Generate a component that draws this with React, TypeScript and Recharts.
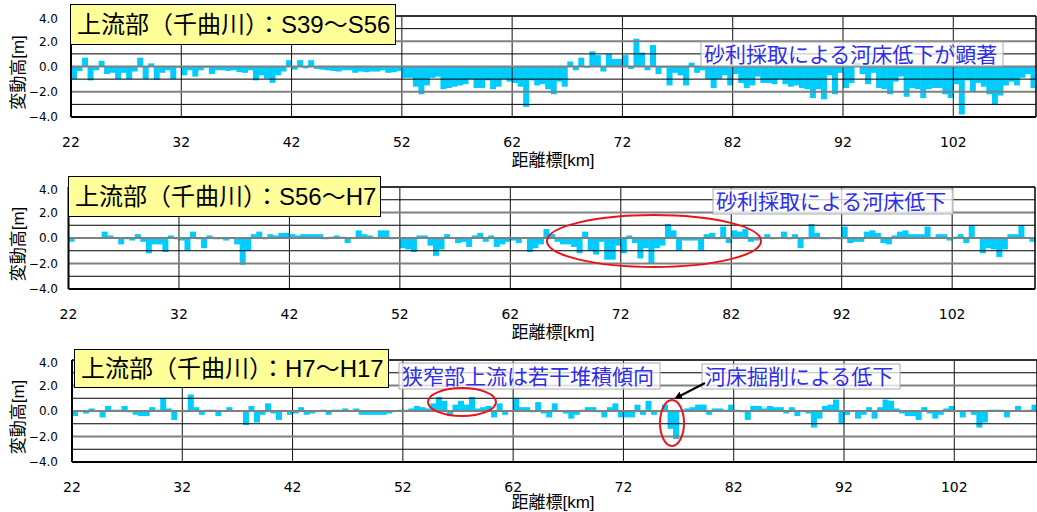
import { BarChart, Bar, XAxis, YAxis, ReferenceLine } from 'recharts';

// distance posts (bar centres) in km
const DISTANCE_KM = [
  22.25, 22.75, 23.25, 23.75, 24.25, 24.75, 25.25, 25.75, 26.25, 26.75,
  27.25, 27.75, 28.25, 28.75, 29.25, 29.75, 30.25, 30.75, 31.25, 31.75,
  32.25, 32.75, 33.25, 33.75, 34.25, 34.75, 35.25, 35.75, 36.25, 36.75,
  37.25, 37.75, 38.25, 38.75, 39.25, 39.75, 40.25, 40.75, 41.25, 41.75,
  42.25, 42.75, 43.25, 43.75, 44.25, 44.75, 45.25, 45.75, 46.25, 46.75,
  47.25, 47.75, 48.25, 48.75, 49.25, 49.75, 50.25, 50.75, 51.25, 51.75,
  52.25, 52.75, 53.25, 53.75, 54.25, 54.75, 55.25, 55.75, 56.25, 56.75,
  57.25, 57.75, 58.25, 58.75, 59.25, 59.75, 60.25, 60.75, 61.25, 61.75,
  62.25, 62.75, 63.25, 63.75, 64.25, 64.75, 65.25, 65.75, 66.25, 66.75,
  67.25, 67.75, 68.25, 68.75, 69.25, 69.75, 70.25, 70.75, 71.25, 71.75,
  72.25, 72.75, 73.25, 73.75, 74.25, 74.75, 75.25, 75.75, 76.25, 76.75,
  77.25, 77.75, 78.25, 78.75, 79.25, 79.75, 80.25, 80.75, 81.25, 81.75,
  82.25, 82.75, 83.25, 83.75, 84.25, 84.75, 85.25, 85.75, 86.25, 86.75,
  87.25, 87.75, 88.25, 88.75, 89.25, 89.75, 90.25, 90.75, 91.25, 91.75,
  92.25, 92.75, 93.25, 93.75, 94.25, 94.75, 95.25, 95.75, 96.25, 96.75,
  97.25, 97.75, 98.25, 98.75, 99.25, 99.75, 100.25, 100.75, 101.25, 101.75,
  102.25, 102.75, 103.25, 103.75, 104.25, 104.75, 105.25, 105.75, 106.25, 106.75,
  107.25, 107.75, 108.25, 108.75, 109.25,
];

// 変動高 [m]  S39～S56
const DZ_S39_S56 = [
  -1.0, -0.35, 0.7, -1.1, -0.3, 0.45, -0.6, -0.5, -1.0, -0.5,
  -1.0, -0.4, 0.7, -1.0, 0.25, -1.05, -0.5, -0.3, -1.0, -0.1,
  -0.7, -0.3, -0.8, -0.3, -0.1, -0.6, -0.3, -0.3, -0.35, -0.3,
  -0.45, -0.5, -0.3, -1.1, -0.7, -0.95, -1.3, -0.7, -0.4, 0.5,
  -0.25, 0.5, -0.15, 0.5, -0.2, -0.25, -0.3, -0.35, -0.4, -0.3,
  -0.3, -0.5, -0.4, -0.45, -0.4, -0.4, -0.3, -0.5, -0.45, -0.35,
  -0.9, -0.9, -1.6, -2.2, -1.5, -0.9, -0.8, -1.8, -1.7, -1.6,
  -1.5, -1.4, -1.0, -1.7, -1.7, -1.1, -1.8, -1.6, -1.0, -1.2,
  -1.3, -1.6, -3.2, -1.1, -1.5, -1.4, -1.8, -2.2, -1.2, -1.6,
  0.4, -0.3, 0.7, -0.1, 1.2, 0.9, -0.4, 1.0, 0.6, 0.6,
  0.9, -0.2, 2.2, 1.1, -0.3, 1.7, -0.6, -0.1, -1.5, -0.5,
  -0.7, -1.5, 0.3, -0.5, -0.3, -1.0, -1.7, -1.0, -0.7, -1.5,
  -0.6, -1.3, -1.7, -1.5, -0.8, -1.3, -1.3, -1.4, -1.0, -1.4,
  -1.6, -1.5, -1.7, -1.8, -2.5, -1.8, -2.6, -0.7, -2.2, -0.5,
  -1.7, -1.3, 0.3, -0.6, -1.4, -0.5, -1.7, -1.8, -2.2, -1.2,
  -0.8, -2.4, -1.7, -1.8, -2.5, -1.8, -1.7, -1.7, -2.2, -2.5,
  -1.4, -3.8, -1.1, -2.0, -1.3, -1.6, -2.2, -3.0, -2.3, -1.5,
  -1.2, -1.5, -0.9, -0.6, -1.7,
];

// 変動高 [m]  S56～H7
const DZ_S56_H7 = [
  -0.3, 0, 0, 0, 0, 0, 0.5, 0.2, 0, -0.5,
  -0.1, -0.2, 0.3, -0.3, -1.2, -0.5, -0.5, -1.1, 0.2, -0.1,
  -0.2, -1.0, 0.5, -0.1, -0.8, 0.2, -0.1, -0.1, -0.2, 0,
  -0.5, -2.1, -1.0, 0.3, 0.5, -0.1, 0.3, 0.2, 0.4, 0.4,
  0.3, 0.2, 0.3, 0.3, 0.3, 0.3, -0.1, 0.1, 0.2, 0.1,
  -0.4, 0, 0.6, 0.3, 0.2, 0, 0.6, 0.6, -0.1, 0,
  -0.8, -0.9, -1.1, 0.2, 0.2, -0.6, -1.4, -0.9, 0.3, 0,
  -0.4, -0.3, -0.7, 0.2, 0.4, -0.3, 0.2, -0.7, -0.5, -0.3,
  -0.2, -0.4, 0, -1.1, -0.8, -0.5, 0.7, 0.3, -0.3, -0.5,
  -0.5, -0.7, -1.2, 0.5, -1.0, -1.3, -0.3, -1.7, -1.7, -0.6,
  -1.2, 0.2, -0.4, -1.6, -0.8, -2.0, -0.8, -0.6, 1.1, 0.6,
  -1.0, -0.2, -0.2, -0.2, -1.0, 0.3, 0.4, -0.1, 0.9, -0.4,
  0.6, 0.5, 0.7, -0.3, -0.2, 0, 0.3, -0.1, 0, 0.5,
  -0.1, 0.3, -0.8, -0.1, 1.1, 0.4, -0.1, -0.1, 0, -0.1,
  0.9, -0.4, -0.3, -0.3, 0.5, 0.6, 0.4, -0.4, -0.5, 0.2,
  0.5, 0.6, 0.3, 0.3, 0.3, 0.9, 0, 0.3, 0.3, -0.2,
  0.1, 0.3, -0.4, 1.0, 0, -1.2, -0.8, -0.9, -1.5, -0.9,
  0.3, 0.3, 1.0, 0, -0.3,
];

// 変動高 [m]  H7～H17
const DZ_H7_H17 = [
  -0.4, 0, -0.2, 0.2, 0, -0.5, 0.4, 0.1, 0.1, 0.4,
  -0.1, -0.3, -0.4, -0.4, 0.3, 0.1, 1.0, 0.2, -0.7, 0,
  -0.1, 1.3, 0.3, -0.3, 0.1, 0.1, -0.4, 0, 0.3, 0,
  0, -1.1, 0.4, -0.9, -0.3, 0.6, -0.2, -0.7, 0, -0.3,
  -0.2, 0.3, -0.3, -0.2, 0, 0.1, -0.3, 0.1, 0.1, 0.2,
  0, 0.2, -0.3, -0.3, -0.3, -0.3, -0.3, -0.2, 0, 0.1,
  0.1, 0.2, 0.4, 0.3, 0.2, 0.6, 1.1, 0.8, -0.4, 0.5,
  0.8, 0.5, 1.1, 0.2, 0.3, 0.4, -0.5, 0.6, -0.3, 0,
  1.0, 0.3, 0.3, -0.1, 0.7, -0.2, -0.5, 0.6, 0, -0.2,
  -0.6, -0.3, 0.1, 0.3, 0.3, -0.1, -0.5, 0.3, 0.6, -0.5,
  -0.5, -0.5, 0.5, -0.3, 0.8, -0.3, 0, 0.5, -1.4, -2.2,
  0, 0.2, 0.3, 0.5, 0.5, -0.3, 0.2, 0.2, 0.1, 0.5,
  0.1, -0.1, -0.7, 0.4, 0.4, 0.2, 0.4, 0.3, 0.3, -0.2,
  0.3, -0.4, 0, -0.2, -1.3, -0.6, 0.4, 0.5, 0.9, -1.0,
  -0.3, 0, -0.6, -0.3, 0.3, -0.6, 0.3, 0.9, 0.8, 0.2,
  -0.2, -0.4, -0.4, -0.7, 0.3, -0.2, -0.6, -0.3, 0.2, 0.4,
  0, -0.5, 0, -0.3, -1.3, -0.9, 0.1, 0.1, 0.1, -0.5,
  0, 0.4, 0, 0.1, 0.5,
];

const X_TICKS = [22, 32, 42, 52, 62, 72, 82, 92, 102];
const Y_TICKS = [-4, -2, 0, 2, 4];
const ODD_LINES = [3, 1, -1, -3];
const EVEN_LINES = [2, 0, -2];
const X_MAX = 109.5;

const NUM_FONT = "'DejaVu Sans', sans-serif";
const JP_FONT = "'Liberation Sans', 'Noto Sans CJK JP', sans-serif";
const BLUE = '#2f2fe6';
const RED = '#e8141c';

interface PanelProps {
  values: number[];
  left: number;
  right: number;
  top: number;
  bottom: number;
}

function Panel({ values, left, right, top, bottom }: PanelProps) {
  const data = DISTANCE_KM.map((km, i) => ({ km, dz: values[i] }));
  const mTop = 5;
  const axisH = 50;
  const height = mTop + (bottom - top) + axisH;
  return (
    <div style={{ position: 'absolute', left: 0, top: top - mTop }}>
      <BarChart
        width={1037}
        height={height}
        data={data}
        margin={{ top: mTop, right: 1037 - right, bottom: 0, left: 0 }}
        barCategoryGap={0}
        barGap={0}
      >
        <XAxis
          dataKey="km"
          type="number"
          domain={[22, X_MAX]}
          ticks={X_TICKS}
          height={axisH}
          tickLine={false}
          tickSize={0}
          tickMargin={20}
          axisLine={{ stroke: '#000', strokeWidth: 2 }}
          tick={{ fill: '#000', fontSize: 14, fontFamily: NUM_FONT }}
        />
        <YAxis
          type="number"
          domain={[-4, 4]}
          ticks={Y_TICKS}
          width={left}
          tickLine={false}
          tickSize={0}
          tickMargin={left - 58}
          axisLine={{ stroke: '#000', strokeWidth: 2 }}
          tick={{ fill: '#000', fontSize: 12, fontFamily: NUM_FONT }}
          tickFormatter={(v: number) => v.toFixed(1).replace('-', '\u2212')}
        />
        <Bar dataKey="dz" fill="#00ccff" isAnimationActive={false} />
        {X_TICKS.slice(1).map((x) => (
          <ReferenceLine key={'x' + x} x={x} stroke="#111" strokeWidth={1} />
        ))}
        {ODD_LINES.map((y) => (
          <ReferenceLine key={'o' + y} y={y} stroke="#000" strokeWidth={1} />
        ))}
        {EVEN_LINES.map((y) => (
          <ReferenceLine key={'e' + y} y={y} stroke="#808080" strokeWidth={2} />
        ))}
        <ReferenceLine y={4} stroke="#333" strokeWidth={2} />
        <ReferenceLine x={X_MAX} stroke="#000" strokeWidth={1.5} />
      </BarChart>
    </div>
  );
}

interface TitleProps {
  text: string;
  left: number;
  top: number;
  width: number;
  height: number;
}

function TitleBox({ text, left, top, width, height }: TitleProps) {
  return (
    <div
      style={{
        position: 'absolute',
        left,
        top,
        width,
        height,
        boxSizing: 'border-box',
        background: '#ffff99',
        border: '1px solid #000',
        fontFamily: JP_FONT,
        fontSize: 24,
        lineHeight: height - 2 + 'px',
        paddingLeft: 6,
        whiteSpace: 'nowrap',
        color: '#000',
      }}
    >
      {text}
    </div>
  );
}

function Note({ text, x, y, w, h }: { text: string; x: number; y: number; w: number; h: number }) {
  return (
    <g>
      <rect x={x} y={y} width={w} height={h} fill="#fff" fillOpacity={0.75} stroke="#aaa" strokeWidth={1} />
      <text
        x={x + 3}
        y={y + h / 2}
        dominantBaseline="central"
        fill={BLUE}
        fontSize={21}
        fontFamily={JP_FONT}
      >
        {text}
      </text>
    </g>
  );
}

const PANELS = [
  { values: DZ_S39_S56, left: 71, right: 1036, top: 16, bottom: 117, title: '上流部（千曲川）：S39～S56' },
  { values: DZ_S56_H7, left: 68.5, right: 1035, top: 187, bottom: 289, title: '上流部（千曲川）：S56～H7' },
  { values: DZ_H7_H17, left: 72, right: 1037, top: 360, bottom: 462, title: '上流部（千曲川）：H7～H17' },
];

export default function App() {
  return (
    <div style={{ position: 'absolute', left: 0, top: 0, width: 1037, height: 512, background: '#fff', overflow: 'hidden' }}>
      {PANELS.map((p) => (
        <Panel key={p.title} values={p.values} left={p.left} right={p.right} top={p.top} bottom={p.bottom} />
      ))}
      <TitleBox text={PANELS[0].title} left={70} top={4} width={326} height={41} />
      <TitleBox text={PANELS[1].title} left={68} top={176} width={313} height={41} />
      <TitleBox text={PANELS[2].title} left={74} top={349} width={315} height={39} />
      <svg
        width={1037}
        height={512}
        style={{ position: 'absolute', left: 0, top: 0, pointerEvents: 'none' }}
      >
        <defs>
          <marker id="arrowHead" markerWidth="8" markerHeight="8" refX="6" refY="4" orient="auto" markerUnits="userSpaceOnUse">
            <path d="M0,0 L8,4 L0,8 Z" fill="#000" />
          </marker>
        </defs>
        {PANELS.map((p) => (
          <g key={'lbl' + p.title} fontFamily={JP_FONT} fill="#000">
            <text
              x={18}
              y={(p.top + p.bottom) / 2 + 6}
              fontSize={17}
              textAnchor="middle"
              dominantBaseline="central"
              transform={`rotate(-90 18 ${(p.top + p.bottom) / 2 + 6})`}
            >
              変動高[m]
            </text>
            <text x={553} y={Math.min(p.bottom + 43, 502)} fontSize={17} textAnchor="middle" dominantBaseline="central">
              距離標[km]
            </text>
          </g>
        ))}
        <Note text="砂利採取による河床低下が顕著" x={701} y={42} w={302} h={24} />
        <Note text="砂利採取による河床低下" x={713} y={189} w={240} h={25} />
        <Note text="狭窄部上流は若干堆積傾向" x={399} y={363} w={261} h={26} />
        <Note text="河床掘削による低下" x={702} y={364} w={198} h={25} />
        <ellipse cx={654} cy={241} rx={107} ry={26} fill="none" stroke={RED} strokeWidth={2} />
        <ellipse cx={462} cy={402} rx={34} ry={14} fill="none" stroke={RED} strokeWidth={2} />
        <ellipse cx={672} cy={423} rx={12} ry={23} fill="none" stroke={RED} strokeWidth={2} />
        <line x1={705} y1={383} x2={676} y2={398} stroke="#000" strokeWidth={2} markerEnd="url(#arrowHead)" />
      </svg>
    </div>
  );
}
